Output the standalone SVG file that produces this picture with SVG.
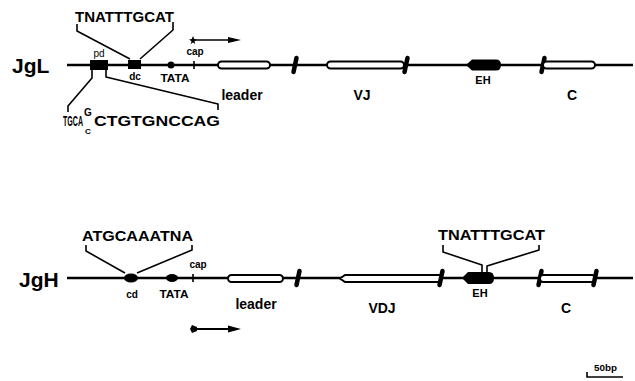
<svg xmlns="http://www.w3.org/2000/svg" width="635" height="381" viewBox="0 0 635 381">
  <style>
    .dna { stroke: #000; stroke-width: 2.4; fill: none; }
    .exon { fill: #fff; stroke: #000; stroke-width: 2; }
    .solid { fill: #000; stroke: none; }
    .brk { stroke: #000; stroke-width: 4.5; fill: none; stroke-linecap: round; }
    .tick { stroke: #000; stroke-width: 1.6; fill: none; }
    .lead { stroke: #000; stroke-width: 1.6; fill: none; stroke-linejoin: round; }
    text { font-family: "Liberation Sans", Arial, sans-serif; font-weight: bold; fill: #000; }
    .big { font-size: 21px; }
    .seq { font-size: 15px; }
    .lab { font-size: 14px; }
    .sm { font-size: 10px; }
    .mid { text-anchor: middle; }
  </style>
  <defs>
    <path id="brk" d="M-1.5,7 L1.5,-7" class="brk"/>
  </defs>

  <!-- JgL locus -->
  <g id="JgL">
    <text class="big" x="12" y="73">JgL</text>
    <path class="dna" d="M67,65 H633"/>
  </g>
  <g id="JgL-pd">
    <rect class="solid" x="90" y="60" width="18" height="10"/>
    <text class="sm mid" x="99" y="57" style="font-weight:normal">pd</text>
  </g>
  <g id="JgL-dc">
    <rect class="solid" x="128" y="60" width="13" height="9"/>
    <text class="sm mid" x="135" y="80">dc</text>
  </g>
  <g id="JgL-TATA">
    <circle class="solid" cx="171" cy="65" r="3.5"/>
    <text class="sm mid" x="175" y="82" textLength="29" lengthAdjust="spacingAndGlyphs">TATA</text>
  </g>
  <g id="JgL-cap">
    <path class="tick" d="M194,61 V69"/>
    <text class="sm mid" x="195" y="55">cap</text>
  </g>
  <g id="JgL-leader">
    <rect class="exon" x="218" y="61.5" width="52" height="7" rx="3.5"/>
    <text class="lab mid" x="242" y="100">leader</text>
  </g>
  <use href="#brk" x="295" y="65"/>
  <g id="JgL-VJ">
    <rect class="exon" x="327" y="61.5" width="77" height="7" rx="3.5"/>
    <use href="#brk" x="406" y="65"/>
    <text class="lab mid" x="362" y="100">VJ</text>
  </g>
  <g id="JgL-EH">
    <path class="solid" d="M466,65 L472,59.5 H496 Q501,59.5 501,65 Q501,70.5 496,70.5 H472 Z"/>
    <text class="sm mid" x="483" y="84" style="font-size:11px">EH</text>
  </g>
  <g id="JgL-C">
    <use href="#brk" x="543" y="65"/>
    <rect class="exon" x="543" y="61.5" width="52" height="7" rx="3.5"/>
    <text class="lab mid" x="572" y="100">C</text>
  </g>
  <g id="JgL-octamer">
    <text class="seq" x="75" y="22" textLength="99" lengthAdjust="spacingAndGlyphs">TNATTTGCAT</text>
  </g>
  <g id="JgL-pd-seq">
    <text x="63" y="126" style="font-size:14px" textLength="20" lengthAdjust="spacingAndGlyphs">TGCA</text>
    <text x="84" y="116" style="font-size:10px">G</text>
    <text x="85" y="134" style="font-size:8px">C</text>
    <text x="94" y="126" style="font-size:14px" textLength="126" lengthAdjust="spacingAndGlyphs">CTGTGNCCAG</text>
  </g>
  <g id="JgL-transcript">
    <path class="solid" d="M193,36 L194.2,39 L197,39.5 L194.5,41.3 L195.3,44 L193,42.5 L190.7,44 L191.5,41.3 L189,39.5 L191.8,39 Z"/>
    <path class="tick" d="M195,40 H232"/>
    <path class="solid" d="M228,37 L241,40 L228,43 Z"/>
  </g>

  <!-- JgH locus -->
  <g id="JgH">
    <text class="big" x="19" y="287">JgH</text>
    <path class="dna" d="M67,278 H633"/>
  </g>
  <g id="JgH-cd">
    <ellipse class="solid" cx="131" cy="278" rx="7" ry="4.5"/>
    <text class="sm mid" x="132" y="298">cd</text>
  </g>
  <g id="JgH-TATA">
    <ellipse class="solid" cx="172" cy="278" rx="6" ry="4"/>
    <text class="sm mid" x="174" y="298" textLength="29" lengthAdjust="spacingAndGlyphs">TATA</text>
  </g>
  <g id="JgH-cap">
    <path class="tick" d="M193,274 V282"/>
    <text class="sm mid" x="198" y="268">cap</text>
  </g>
  <g id="JgH-leader">
    <rect class="exon" x="228" y="275" width="55" height="7" rx="3.5"/>
    <text class="lab mid" x="256" y="309">leader</text>
  </g>
  <use href="#brk" x="298" y="278"/>
  <g id="JgH-VDJ">
    <path class="exon" d="M340,278.5 L345,275 H440 V282 H345 Z"/>
    <use href="#brk" x="441" y="278"/>
    <text class="lab mid" x="382" y="313">VDJ</text>
  </g>
  <g id="JgH-EH">
    <path class="solid" d="M462,278 L468,272 H489 Q494,272 494,278 Q494,284 489,284 H468 Z"/>
    <text class="sm mid" x="480" y="297" style="font-size:11px">EH</text>
  </g>
  <g id="JgH-C">
    <use href="#brk" x="540" y="278"/>
    <rect class="exon" x="540" y="275" width="55" height="7" rx="3"/>
    <use href="#brk" x="595" y="278"/>
    <text class="lab mid" x="566" y="313">C</text>
  </g>
  <g id="JgH-octamer">
    <text class="seq" x="82" y="241" textLength="111" lengthAdjust="spacingAndGlyphs">ATGCAAATNA</text>
  </g>
  <g id="JgH-EH-octamer">
    <text class="seq" x="438" y="240" textLength="107" lengthAdjust="spacingAndGlyphs">TNATTTGCAT</text>
  </g>
  <g id="JgH-transcript">
    <path class="solid" d="M192,325 L197,327 V331 L192,333 L190,329 Z"/>
    <path class="tick" d="M195,329 H232" style="stroke-width:2.2"/>
    <path class="solid" d="M228,325.5 L241,329 L228,332.5 Z"/>
  </g>

  <!-- callout leaders -->
  <g id="connectors">
    <path class="lead" d="M77,24 V31 L130,59"/>
    <path class="lead" d="M173,22 V30 L140,59"/>
    <path class="lead" d="M92,70 V78 L68,106 V112"/>
    <path class="lead" d="M106,70 V77 L218,104 V110"/>
    <path class="lead" d="M86,245 V251 L125,273"/>
    <path class="lead" d="M192,245 V250 L137,273"/>
    <path class="lead" d="M443,245 V252 L482,265 V272"/>
    <path class="lead" d="M539,245 V250 L487,266 V272"/>
  </g>

  <!-- scale bar -->
  <g id="scale">
    <text x="594" y="371" style="font-size:9px" textLength="23" lengthAdjust="spacingAndGlyphs">50bp</text>
    <path class="tick" d="M587,372 V377 H623"/>
  </g>
</svg>
